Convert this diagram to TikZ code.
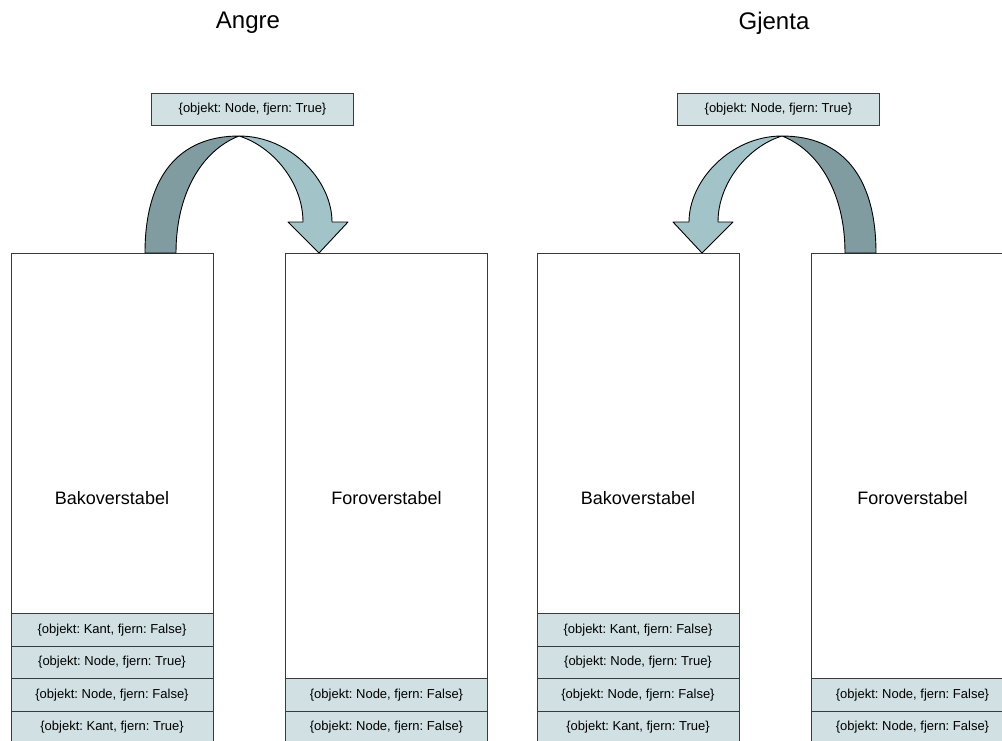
\documentclass[tikz,border=0pt]{standalone}
\usepackage{fontspec}
\setmainfont{Liberation Sans}
\frenchspacing
\definecolor{rowfill}{HTML}{D0E0E3}
\definecolor{arrowlight}{HTML}{A2C4C9}
\definecolor{arrowdark}{HTML}{809CA1}
\definecolor{edge}{HTML}{3A3A3A}
\begin{document}
\begin{tikzpicture}[x=1pt,y=-1pt,
  stack/.style={draw=edge, line width=1pt, fill=white, minimum width=202pt,
    minimum height=490pt, anchor=north west, inner sep=0pt,
    font=\fontsize{18}{20}\selectfont},
  entry/.style={draw=edge, line width=1pt, fill=rowfill, minimum width=202pt,
    minimum height=32.5pt, anchor=north west, inner sep=0pt,
    font=\fontsize{13}{15}\selectfont},
  title/.style={font=\fontsize{24}{28}\selectfont},
  ribbon/.style={draw=black, line width=0.9pt, line join=round},
  undoarrow/.pic={
    % darker twisted tail of the ribbon
    \draw[ribbon, fill=arrowdark] (145,253) .. controls (145,175) and (180,136) .. (239,136)
      .. controls (203,150) and (176,192) .. (176,253) -- cycle;
    % lighter front with the arrow head
    \draw[ribbon, fill=arrowlight] (239,136) .. controls (290,136) and (332,180) .. (332,222)
      -- (348,222) -- (319,253) -- (288,222) -- (303,222)
      .. controls (303,182) and (272,146) .. (239,136) -- cycle;
  }]
\clip (0,0) rectangle (1002,740);
\fill[white] (0,0) rectangle (1002,740);

% ---- Angre ----
\node[title] (angre) at (248,23) {Angre};
\node[entry] (undotop) at (151,92.5) {\{objekt: Node, fjern: True\}};

\node[stack] (bak1) at (10.5,253) {Bakoverstabel};
\node[entry] (b1r1) at (10.5,613) {\{objekt: Kant, fjern: False\}};
\node[entry] (b1r2) at (10.5,645.5) {\{objekt: Node, fjern: True\}};
\node[entry] (b1r3) at (10.5,678) {\{objekt: Node, fjern: False\}};
\node[entry] (b1r4) at (10.5,710.5) {\{objekt: Kant, fjern: True\}};

\node[stack] (for1) at (285,253) {Foroverstabel};
\node[entry] (f1r1) at (285,678) {\{objekt: Node, fjern: False\}};
\node[entry] (f1r2) at (285,710.5) {\{objekt: Node, fjern: False\}};

\pic at (0,0) {undoarrow};

% ---- Gjenta ----
\node[title] (gjenta) at (774,23) {Gjenta};
\node[entry] (redotop) at (677,92.5) {\{objekt: Node, fjern: True\}};

\node[stack] (bak2) at (536.5,253) {Bakoverstabel};
\node[entry] (b2r1) at (536.5,613) {\{objekt: Kant, fjern: False\}};
\node[entry] (b2r2) at (536.5,645.5) {\{objekt: Node, fjern: True\}};
\node[entry] (b2r3) at (536.5,678) {\{objekt: Node, fjern: False\}};
\node[entry] (b2r4) at (536.5,710.5) {\{objekt: Kant, fjern: True\}};

\node[stack] (for2) at (811,253) {Foroverstabel};
\node[entry] (f2r1) at (811,678) {\{objekt: Node, fjern: False\}};
\node[entry] (f2r2) at (811,710.5) {\{objekt: Node, fjern: False\}};

\pic[xscale=-1] at (1021,0) {undoarrow};
\end{tikzpicture}
\end{document}
